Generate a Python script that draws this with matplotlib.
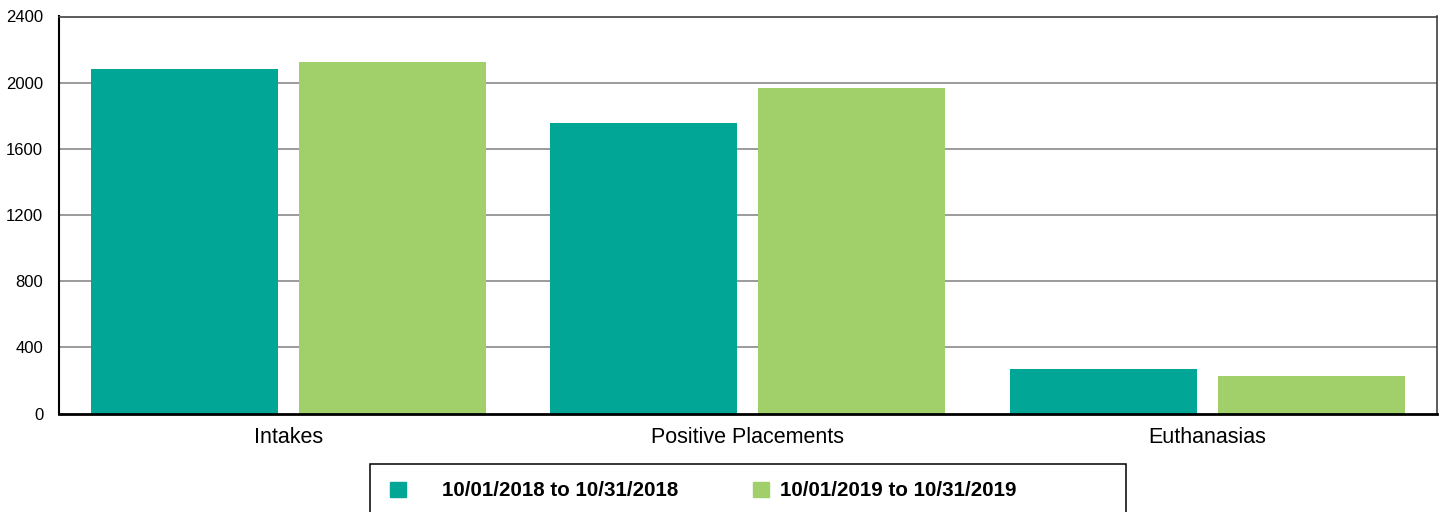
import matplotlib
matplotlib.use("Agg")
import matplotlib.pyplot as plt
import numpy as np
from matplotlib.patches import Rectangle, Patch

plt.rcParams['font.family'] = ['Liberation Sans', 'DejaVu Sans']

categories = ["Intakes", "Positive Placements", "Euthanasias"]
series_labels = ["10/01/2018 to 10/31/2018", "10/01/2019 to 10/31/2019"]
values_2018 = [2083, 1758, 267]
values_2019 = [2125, 1968, 225]
colors = ["#01A697", "#A1CF69"]
yticks = [0, 400, 800, 1200, 1600, 2000, 2400]

fig = plt.figure(figsize=(14.44, 5.12), dpi=100)
ax = fig.add_axes([58.5/1444, 1 - 413.5/512, (1437 - 58.5)/1444, (413.5 - 16.5)/512])

x = np.arange(len(categories))
w = 0.407
off = 0.2265
ax.bar(x - off, values_2018, width=w, color=colors[0], zorder=3)
ax.bar(x + off, values_2019, width=w, color=colors[1], zorder=3)

ax.set_xlim(-0.5, 2.5)
ax.set_ylim(0, 2400)
ax.set_yticks(yticks)
ax.set_yticklabels([str(t) for t in yticks])
ax.set_xticks(x)
ax.set_xticklabels(categories)
ax.tick_params(axis='y', length=0, pad=11, labelsize=12, labelcolor='black')
ax.tick_params(axis='x', length=0, pad=10, labelsize=15.5, labelcolor='black')

for t in yticks[1:-1]:
    ax.axhline(t, color='#808080', lw=1.1, zorder=1)

ax.spines['left'].set_color('black')
ax.spines['left'].set_linewidth(1.5)
ax.spines['bottom'].set_color('black')
ax.spines['bottom'].set_linewidth(2.0)
ax.spines['bottom'].set_zorder(4)
ax.spines['top'].set_color('#404040')
ax.spines['top'].set_linewidth(1.2)
ax.spines['right'].set_color('#404040')
ax.spines['right'].set_linewidth(1.2)

# legend frame
fig.patches.append(Rectangle((370/1444, -0.05), (1126 - 370)/1444, (1 - 464/512) + 0.05,
                             transform=fig.transFigure, fill=False, edgecolor='black',
                             lw=1.1, clip_on=False))

fs = 14.8
fpx = fs * 100 / 72
hl = 16 / fpx
yc = 1 - 491/512
leg1 = fig.legend(handles=[Patch(color=colors[0])], labels=[series_labels[0]],
                  loc='center left', bbox_to_anchor=(390/1444, yc), frameon=False,
                  borderpad=0, borderaxespad=0, handlelength=hl, handleheight=hl,
                  handletextpad=(442 - 406)/fpx,
                  prop={'weight': 'bold', 'size': fs})
leg2 = fig.legend(handles=[Patch(color=colors[1])], labels=[series_labels[1]],
                  loc='center left', bbox_to_anchor=(753/1444, yc), frameon=False,
                  borderpad=0, borderaxespad=0, handlelength=hl, handleheight=hl,
                  handletextpad=(780 - 769)/fpx,
                  prop={'weight': 'bold', 'size': fs})

fig.savefig("out.png", dpi=100)
